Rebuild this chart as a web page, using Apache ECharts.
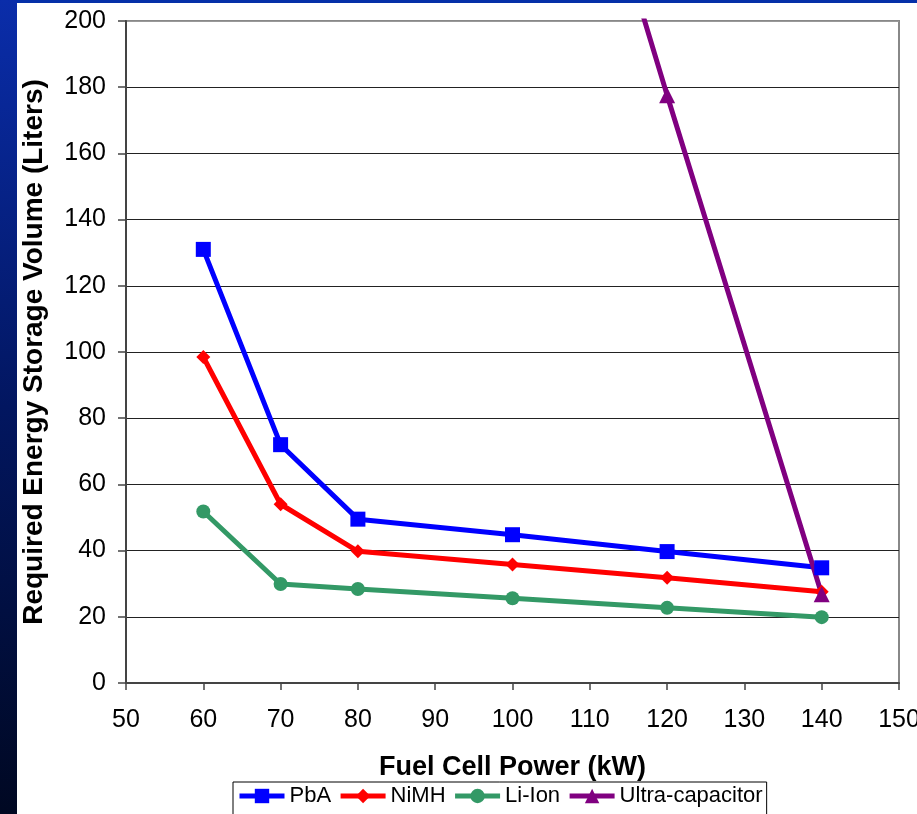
<!DOCTYPE html>
<html><head><meta charset="utf-8">
<script src="https://cdn.jsdelivr.net/npm/echarts@6/dist/echarts.min.js"></script>
<style>html,body{margin:0;padding:0;background:#fff}#c{width:917px;height:814px}</style>
</head><body><div id="c"></div>
<script>
const power = [60, 70, 80, 100, 120, 140];
const pbA = [131, 72, 49.5, 44.8, 39.7, 34.8];
const niMH = [98.5, 54, 39.8, 35.8, 31.8, 27.6];
const liIon = [51.8, 29.9, 28.4, 25.6, 22.7, 19.9];
const ultraCap = [null, null, null, 332, 177.6, 26.8];
const seriesNames = ['PbA', 'NiMH', 'Li-Ion', 'Ultra-capacitor'];
const yTicks = [0, 20, 40, 60, 80, 100, 120, 140, 160, 180, 200];

const chart = echarts.init(document.getElementById('c'), null, {renderer: 'canvas'});
const font = '"Liberation Sans", Arial, sans-serif';
function pts(vals) { return power.map((x, i) => [x, vals[i]]).filter(p => p[1] !== null); }
const splitColors = yTicks.map((t, i) => i === yTicks.length - 1 ? '#999' : '#222');

function mk(name, vals, color, symbol, size) {
  return {
    name, type: 'line', data: pts(vals), symbol, symbolSize: size,
    lineStyle: {color, width: 5}, itemStyle: {color},
    showSymbol: true, animation: false, clip: true, z: 3
  };
}

chart.setOption({
  animation: false,
  backgroundColor: '#fff',
  graphic: [
    {type: 'rect', shape: {x: 0, y: 0, width: 917, height: 3}, style: {fill: '#0530A8'}, z: -10},
    {type: 'rect', shape: {x: 0, y: 0, width: 17, height: 814},
      style: {fill: new echarts.graphic.LinearGradient(0, 0, 0, 1, [
        {offset: 0, color: '#0A2DAA'}, {offset: 0.5, color: '#021660'}, {offset: 1, color: '#000822'}])}, z: -10}
  ],
  grid: {left: 126, right: 18, top: 21, bottom: 131, show: true, borderColor: '#888', borderWidth: 2,
    containLabel: false, outerBoundsMode: 'none'},
  xAxis: {
    type: 'value', min: 50, max: 150, interval: 10,
    name: 'Fuel Cell Power (kW)', nameLocation: 'middle', nameGap: 71,
    nameTextStyle: {fontFamily: font, fontSize: 27, fontWeight: 'bold', color: '#000'},
    axisLine: {show: true, onZero: false, lineStyle: {color: '#444', width: 2}},
    axisTick: {show: true, inside: false, length: 7, lineStyle: {color: '#444', width: 1.5}},
    axisLabel: {fontFamily: font, fontSize: 25, color: '#000', margin: 25, hideOverlap: false},
    splitLine: {show: false}
  },
  yAxis: {
    type: 'value', min: 0, max: 200, interval: 20,
    name: 'Required Energy Storage Volume (Liters)', nameLocation: 'middle', nameGap: 78, nameRotate: 90,
    nameTextStyle: {fontFamily: font, fontSize: 28, fontWeight: 'bold', color: '#000'},
    axisLine: {show: true, lineStyle: {color: '#444', width: 2}},
    axisTick: {show: true, inside: false, length: 8, lineStyle: {color: '#444', width: 1.5}},
    axisLabel: {fontFamily: font, fontSize: 25, color: '#000', margin: 20},
    splitLine: {show: true, lineStyle: {color: splitColors, width: 1.2}}
  },
  legend: {
    data: seriesNames, top: 782, left: 233, orient: 'horizontal',
    borderColor: '#000', borderWidth: 1, borderRadius: 0, backgroundColor: '#fff',
    padding: [3, 4, 20, 4], itemGap: 7, itemWidth: 45, itemHeight: 18,
    lineStyle: {width: 5},
    textStyle: {fontFamily: font, fontSize: 22, color: '#000'}
  },
  series: [
    mk('PbA', pbA, '#0000FF', 'rect', 15),
    mk('NiMH', niMH, '#FF0000', 'diamond', 14),
    mk('Li-Ion', liIon, '#339966', 'circle', 14),
    mk('Ultra-capacitor', ultraCap, '#800080', 'triangle', 16)
  ]
});
</script></body></html>
